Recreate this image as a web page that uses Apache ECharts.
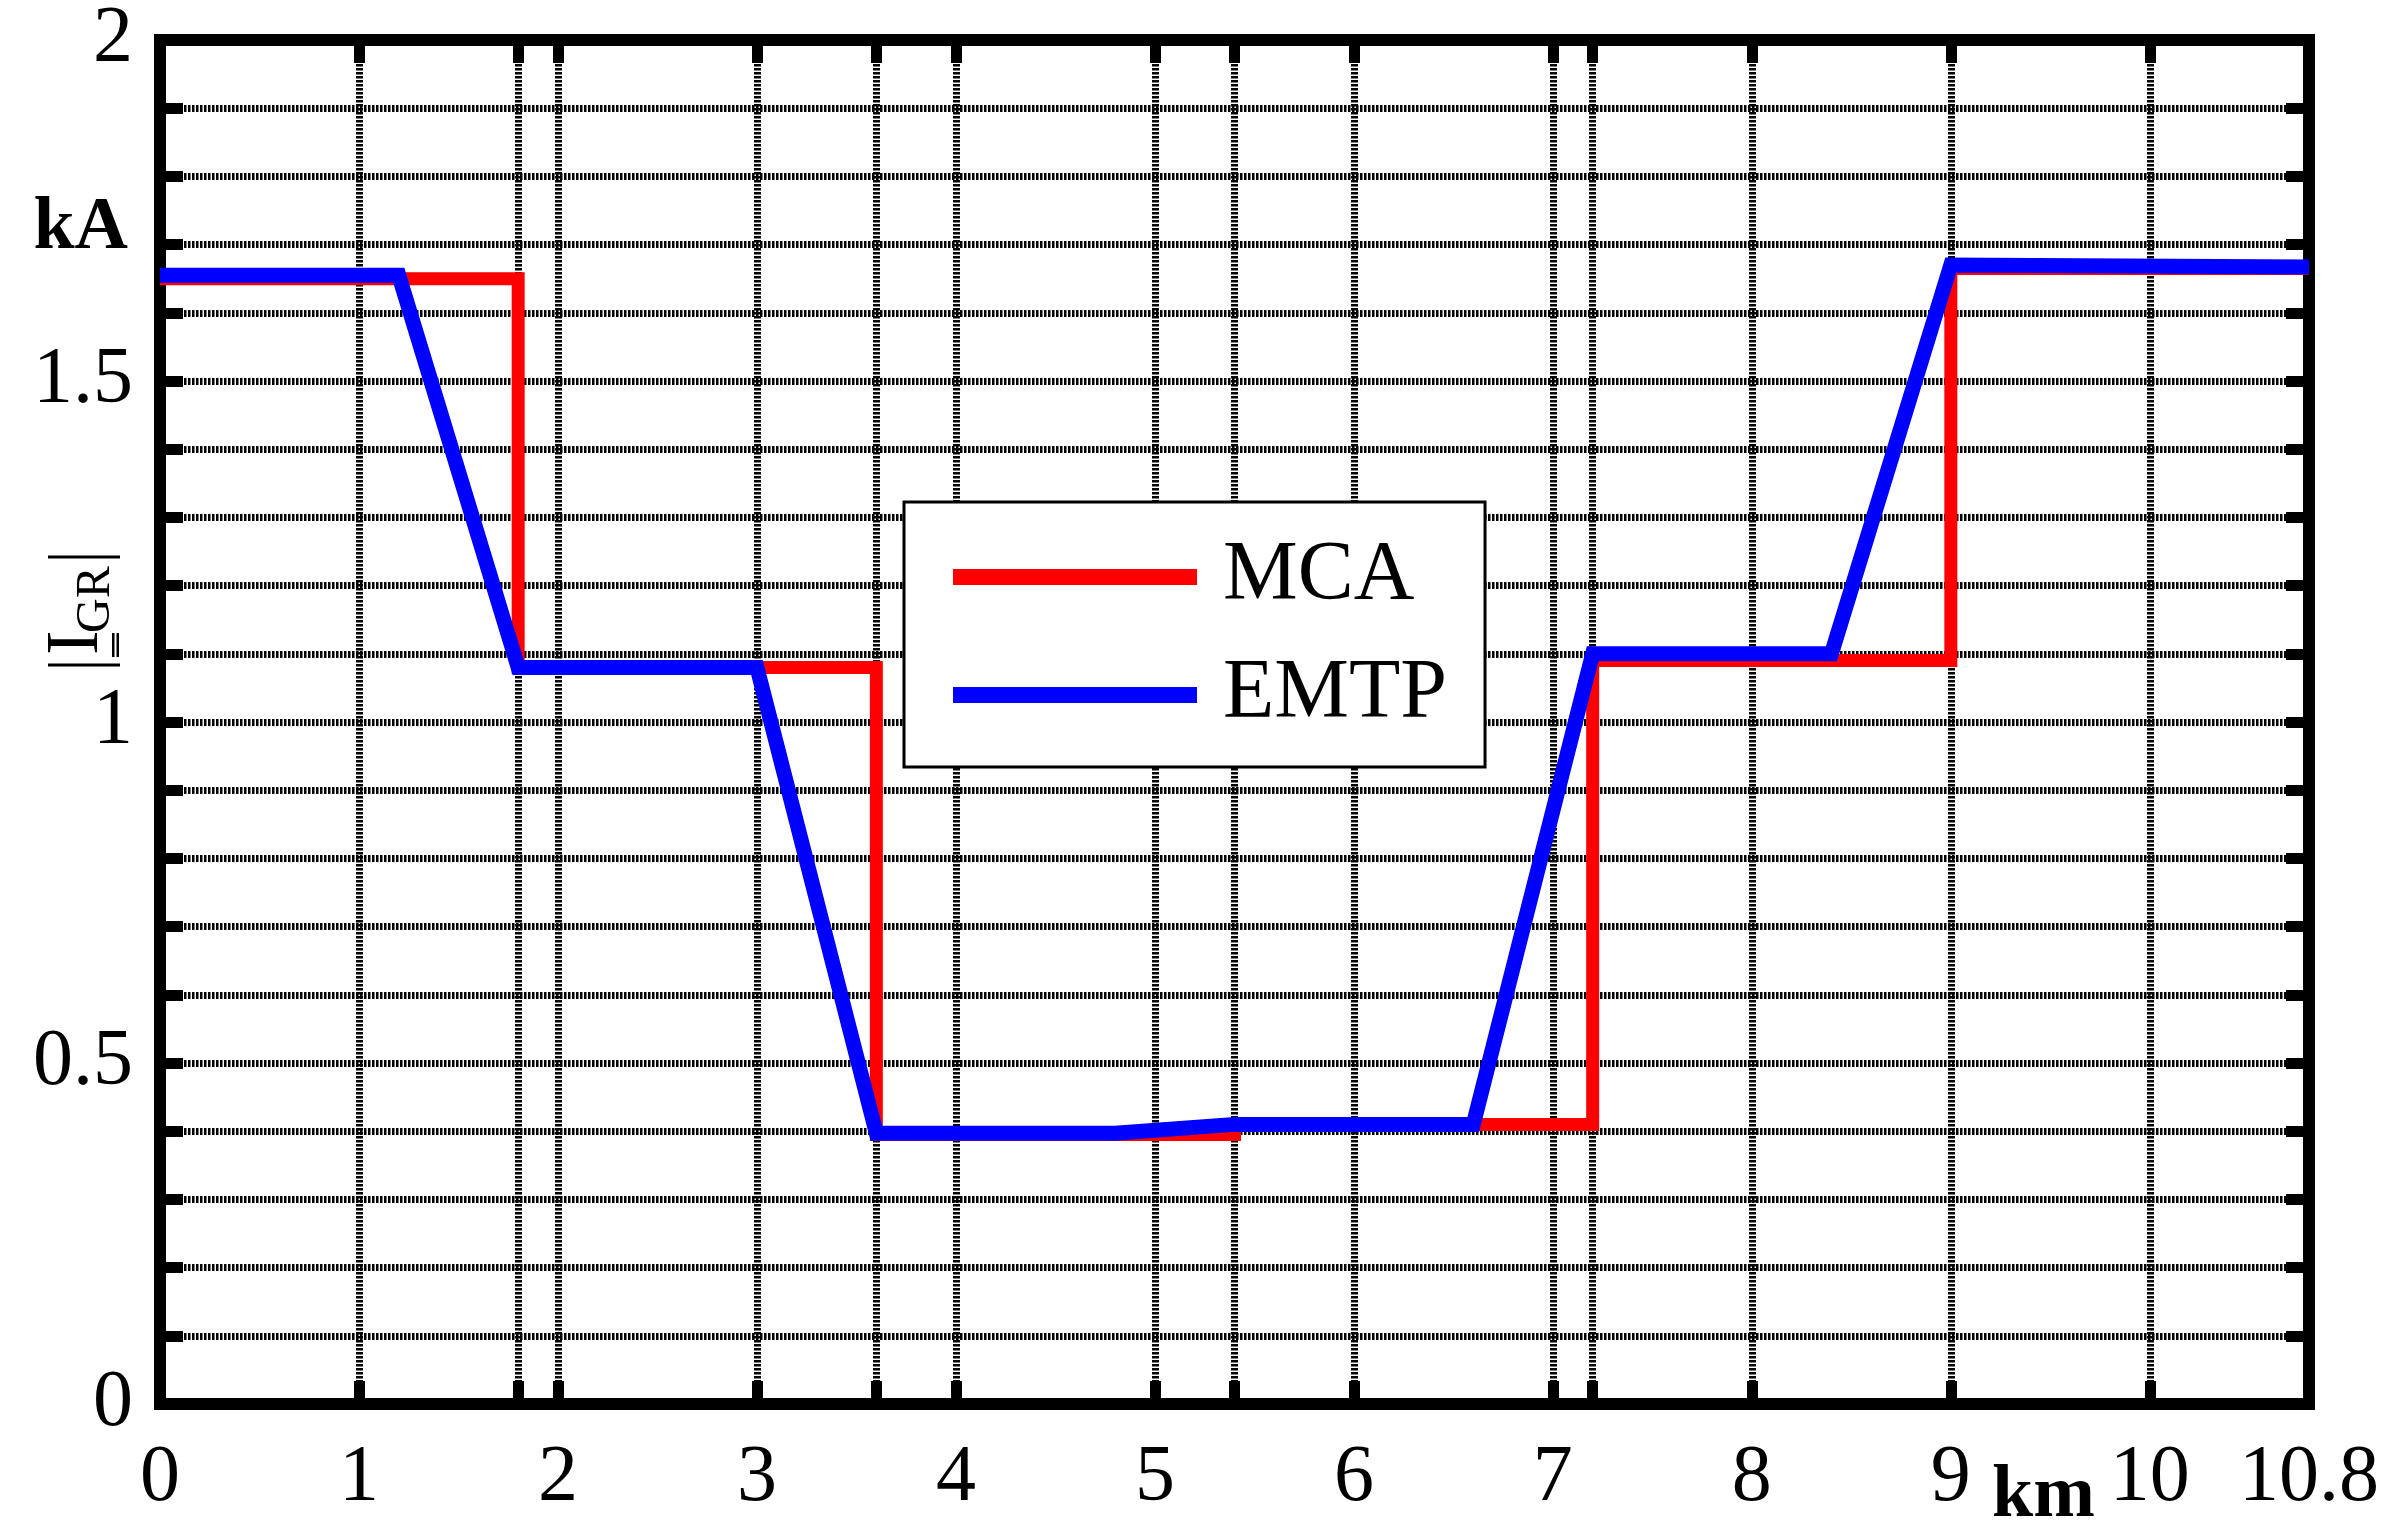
<!DOCTYPE html>
<html><head><meta charset="utf-8">
<script src="https://cdn.jsdelivr.net/npm/echarts@6/dist/echarts.min.js"></script>
<style>html,body{margin:0;padding:0;background:#fff}#c{width:2387px;height:1531px}</style>
</head><body><div id="c"></div>
<script>
// ---- data ----
const seriesNames = ['MCA', 'EMTP'];
const mcaKm  = [0, 1.8, 1.8, 3.6, 3.6, 5.4, 5.4, 7.2, 7.2, 9.0, 9.0, 10.8];
const mcaKA  = [1.65, 1.65, 1.08, 1.08, 0.395, 0.395, 0.41, 0.41, 1.09, 1.09, 1.665, 1.665];
const emtpKm = [0, 1.2, 1.8, 3.0, 3.6, 4.8, 5.4, 6.6, 7.2, 8.4, 9.0, 10.8];
const emtpKA = [1.655, 1.655, 1.08, 1.08, 0.397, 0.397, 0.41, 0.41, 1.1, 1.1, 1.67, 1.667];
const xLabelValues = [0, 1, 2, 3, 4, 5, 6, 7, 8, 9, 10, 10.8];
const xGridValues  = [1, 1.8, 2, 3, 3.6, 4, 5, 5.4, 6, 7, 7.2, 8, 9, 10];
const yLabelValues = [0, 0.5, 1, 1.5, 2];
const xUnit = 'km';
const yUnit = 'kA';
const yNameMain = 'I';
const yNameSub = 'GR';

const FONT = '"Liberation Serif", "Times New Roman", serif';
const chart = echarts.init(document.getElementById('c'), null, {renderer: 'canvas'});
const pairs = (xs, ys) => xs.map((x, i) => [x, ys[i]]);
const axisLineStyle = {color: '#000', width: 12, cap: 'square'};
const tickStyle = {show: true, inside: true, length: 23, lineStyle: {color: '#000', width: 11}};
const gridLine = {show: true, lineStyle: {color: '#000', width: 7, type: [2.5, 1.5]}};
const labelFont = {fontSize: 80, fontFamily: FONT, color: '#000'};

const option = {
  animation: false,
  backgroundColor: '#fff',
  grid: {left: 160, right: 78, top: 40, bottom: 127, containLabel: false, outerBoundsMode: 'none'},
  legend: {
    data: seriesNames,
    orient: 'vertical',
    left: 904, top: 502,
    padding: [33, 38, 30, 49],
    backgroundColor: '#fff',
    borderColor: '#000', borderWidth: 3,
    icon: 'rect', itemWidth: 244, itemHeight: 16, itemGap: 34,
    textStyle: {fontSize: 84, fontFamily: FONT, color: '#000', padding: [0, 0, 0, 21]}
  },
  xAxis: [
    {type: 'value', min: 0, max: 10.8, position: 'bottom',
     axisLine: {show: true, onZero: false, lineStyle: axisLineStyle},
     axisTick: Object.assign({}, tickStyle, {customValues: xGridValues}),
     axisLabel: Object.assign({customValues: xLabelValues, margin: 35}, labelFont),
     splitLine: gridLine},
    {type: 'value', min: 0, max: 10.8, position: 'top',
     axisLine: {show: true, onZero: false, lineStyle: axisLineStyle},
     axisTick: Object.assign({}, tickStyle, {customValues: xGridValues}),
     axisLabel: {show: false}, splitLine: {show: false}}
  ],
  yAxis: [
    {type: 'value', min: 0, max: 2, interval: 0.1, position: 'left',
     axisLine: {show: true, onZero: false, lineStyle: axisLineStyle},
     axisTick: tickStyle,
     axisLabel: Object.assign({customValues: yLabelValues, margin: 27}, labelFont),
     splitLine: gridLine},
    {type: 'value', min: 0, max: 2, interval: 0.1, position: 'right',
     axisLine: {show: true, onZero: false, lineStyle: axisLineStyle},
     axisTick: tickStyle,
     axisLabel: {show: false}, splitLine: {show: false}}
  ],
  series: [
    {name: seriesNames[0], type: 'line', data: pairs(mcaKm, mcaKA), showSymbol: false, symbol: 'none',
     color: '#ff0000', lineStyle: {color: '#ff0000', width: 13, join: 'miter', cap: 'butt'}, z: 3},
    {name: seriesNames[1], type: 'line', data: pairs(emtpKm, emtpKA), showSymbol: false, symbol: 'none',
     color: '#0000ff', lineStyle: {color: '#0000ff', width: 15, join: 'miter', cap: 'butt'}, z: 4}
  ],
  graphic: [
    {type: 'text', x: 128, y: 229, z: 10,
     style: {text: yUnit, font: 'bold 74px ' + FONT, align: 'right', verticalAlign: 'middle', fill: '#000'}},
    {type: 'text', x: 1992, y: 1497, z: 10,
     style: {text: xUnit, font: 'bold 74px ' + FONT, align: 'left', verticalAlign: 'middle', fill: '#000'}},
    {type: 'group', x: 102, y: 665, rotation: Math.PI / 2, z: 10,
     children: [
       {type: 'line', shape: {x1: 0, y1: -54, x2: 0, y2: 18}, style: {stroke: '#000', lineWidth: 3}},
       {type: 'text', x: 10, y: -24,
        style: {text: yNameMain, font: '74px ' + FONT, align: 'left', verticalAlign: 'middle', fill: '#000'}},
       {type: 'rect', shape: {x: 8, y: 10, width: 24, height: 2.5}, style: {fill: '#000'}},
       {type: 'rect', shape: {x: 8, y: 14.5, width: 24, height: 2.5}, style: {fill: '#000'}},
       {type: 'text', x: 32, y: -6,
        style: {text: yNameSub, font: '48px ' + FONT, align: 'left', verticalAlign: 'middle', fill: '#000'}},
       {type: 'line', shape: {x1: 108, y1: -54, x2: 108, y2: 18}, style: {stroke: '#000', lineWidth: 3}}
     ]}
  ]
};
chart.setOption(option);
</script>
</body></html>
